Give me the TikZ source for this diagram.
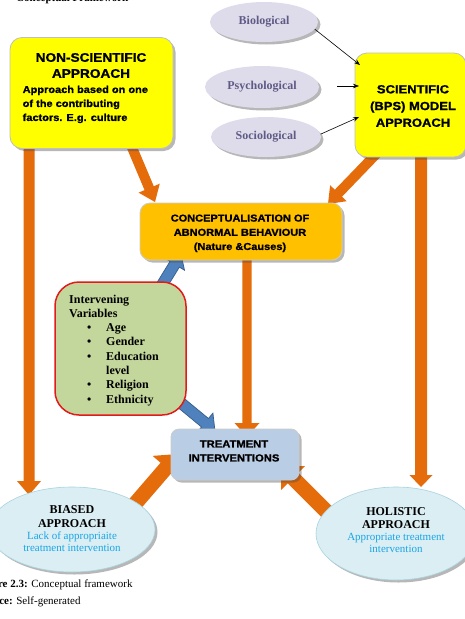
\documentclass[tikz,border=0pt]{standalone}
\usepackage{fontspec}
\setmainfont{Liberation Serif}
\newfontfamily\blk[FakeStretch=1.1,BoldFeatures={FakeBold=1.2}]{Liberation Sans}
\usetikzlibrary{shapes.geometric,shadows,calc,arrows.meta}
\definecolor{orng}{HTML}{E46C0A}
\definecolor{yfill}{HTML}{FFFF00}
\definecolor{ofill}{HTML}{FFC000}
\definecolor{tfill}{HTML}{B9CDE5}
\definecolor{gfill}{HTML}{C3D69B}
\definecolor{rbord}{HTML}{E31A1A}
\definecolor{lav}{HTML}{DEDCEB}
\definecolor{lavtxt}{HTML}{5F5A85}
\definecolor{cyanfill}{HTML}{DAEEF3}
\definecolor{cyanbord}{HTML}{A9D3DF}
\definecolor{bluetxt}{HTML}{1AA5E6}
\definecolor{barrow}{HTML}{4F81BD}
\definecolor{barrowd}{HTML}{385D8A}
\newcommand{\fatarr}[6]{%
  \coordinate (faC) at ($(#3)!#6!(#2)$);
  \filldraw[#1] ($(#2)!#4!90:(#3)$) -- ($(faC)!#4!90:(#3)$) -- ($(faC)!#5!90:(#3)$) -- (#3)
    -- ($(faC)!#5!-90:(#3)$) -- ($(faC)!#4!-90:(#3)$) -- ($(#2)!#4!-90:(#3)$) -- cycle;}
\tikzset{
  shad/.style={drop shadow={shadow xshift=2.5pt,shadow yshift=-2.5pt,fill=black!70,opacity=.4}},
  orngA/.style={fill=orng,draw=none},
  blueA/.style={fill=barrow,draw=barrowd,line width=0.7pt,line join=miter},
  ybx/.style={rectangle,rounded corners=12pt,fill=yfill,draw=black!25,line width=0.8pt,shad,inner sep=0},
  obx/.style={rectangle,rounded corners=10pt,fill=ofill,draw=black!20,line width=0.8pt,shad,inner sep=0},
  tbx/.style={rectangle,rounded corners=8pt,fill=tfill,draw=black!20,line width=0.8pt,shad,inner sep=0},
  gbx/.style={rectangle,rounded corners=24pt,fill=gfill,draw=rbord,line width=1.5pt,inner sep=0},
  lavell/.style={ellipse,fill=lav,draw=none,shad,inner sep=0,text=lavtxt,font=\bfseries\fontsize{12}{14}\selectfont},
  cyell/.style={ellipse,fill=cyanfill,draw=cyanbord,line width=0.6pt,shad,inner sep=0},
  bigsans/.style={align=center,inner sep=0,font=\blk\bfseries\fontsize{12.4}{16}\selectfont},
  midsans/.style={align=center,inner sep=0,font=\blk\bfseries\fontsize{10}{14.2}\selectfont},
  sertitle/.style={align=center,inner sep=0,font=\bfseries\fontsize{12}{13.4}\selectfont},
  sersub/.style={align=center,inner sep=0,text=bluetxt,font=\fontsize{11}{12.7}\selectfont},
  thinarr/.style={draw=black,line width=0.6pt,-{Stealth[length=6pt,width=4.5pt]}}
}
\begin{document}
\begin{tikzpicture}[x=1pt,y=-1pt]
\useasboundingbox (0,0) rectangle (465,619);
% orange arrows (behind boxes)
\coordinate (o1a) at (29,140); \coordinate (o1b) at (29,495);
\coordinate (o2a) at (128,138); \coordinate (o2b) at (155,202);
\coordinate (o3a) at (382,148); \coordinate (o3b) at (328,204);
\coordinate (o4a) at (421,150); \coordinate (o4b) at (421,487);
\coordinate (o5a) at (247,250); \coordinate (o5b) at (247,437);
\coordinate (o6a) at (128,512); \coordinate (o6b) at (178,454);
\coordinate (o7a) at (337,522); \coordinate (o7b) at (281,466);
\fatarr{orngA}{o1a}{o1b}{5.5pt}{12pt}{14pt}
\fatarr{orngA}{o2a}{o2b}{5pt}{11.5pt}{15pt}
\fatarr{orngA}{o3a}{o3b}{5pt}{11.5pt}{15pt}
\fatarr{orngA}{o4a}{o4b}{6pt}{11.5pt}{12pt}
\fatarr{orngA}{o5a}{o5b}{4.7pt}{12.5pt}{14pt}
\fatarr{orngA}{o6a}{o6b}{7.5pt}{18pt}{18pt}
\fatarr{orngA}{o7a}{o7b}{7.5pt}{17pt}{17pt}
% blue arrows
\coordinate (b1a) at (157,293); \coordinate (b1b) at (181,254);
\coordinate (b2a) at (175,398); \coordinate (b2b) at (215,431);
\fatarr{blueA}{b1a}{b1b}{5.5pt}{11.5pt}{12pt}
\fatarr{blueA}{b2a}{b2b}{5.5pt}{12.5pt}{13pt}
% boxes
\node[ybx,minimum width=163pt,minimum height=111pt] (ns) at (91.5,93) {};
\node[bigsans] (nsT) at (91,65.5) {NON-SCIENTIFIC\\APPROACH};
\node[anchor=north west,inner sep=0,align=left,font=\blk\bfseries\fontsize{10}{14}\selectfont] (nsS) at (22.5,85.5) {Approach based on one\\of the contributing\\factors. E.g. culture};
\node[ybx,minimum width=111pt,minimum height=104pt] (sci) at (410.5,105) {};
\node[align=center,inner sep=0,font=\blk\bfseries\fontsize{11.8}{16.7}\selectfont] (sciT) at (413,106) {SCIENTIFIC\\(BPS) MODEL\\APPROACH};
\node[lavell,minimum width=108pt,minimum height=40pt] (bio) at (264,22) {Biological};
\node[lavell,minimum width=114pt,minimum height=42pt] (psy) at (262,87) {Psychological};
\node[lavell,minimum width=110pt,minimum height=40pt] (soc) at (266,137) {Sociological};
\node[obx,minimum width=202pt,minimum height=57pt] (cb) at (241,231.5) {};
\node[midsans] (cbT) at (240,233.3) {CONCEPTUALISATION OF\\ABNORMAL BEHAVIOUR\\(Nature \&Causes)};
\node[tbx,minimum width=128pt,minimum height=51pt] (tb) at (235,454.5) {};
\node[midsans,font=\blk\bfseries\fontsize{10.2}{14}\selectfont] (tbT) at (234,451) {TREATMENT\\INTERVENTIONS};
\node[gbx,minimum width=131pt,minimum height=133pt] (gv) at (120.5,348.5) {};
\node[anchor=north west,inner sep=0,align=left,font=\bfseries\fontsize{12}{14.3}\selectfont] (gvT) at (69,294.5)
 {Intervening\\Variables\\\makebox[37pt][l]{\hspace{18pt}\textbullet}Age\\\makebox[37pt][l]{\hspace{18pt}\textbullet}Gender\\\makebox[37pt][l]{\hspace{18pt}\textbullet}Education\\\makebox[37pt][l]{}level\\\makebox[37pt][l]{\hspace{18pt}\textbullet}Religion\\\makebox[37pt][l]{\hspace{18pt}\textbullet}Ethnicity};
\node[cyell,minimum width=166pt,minimum height=85pt] (bi) at (72,529.5) {};
\node[sertitle] (biT) at (72,516.7) {BIASED\\APPROACH};
\node[sersub] (biS) at (72,541.6) {Lack of appropriaite\\treatment intervention};
\node[cyell,minimum width=160pt,minimum height=93pt] (ho) at (396,533.5) {};
\node[sertitle] (hoT) at (396,517.8) {HOLISTIC\\APPROACH};
\node[sersub] (hoS) at (396,543) {Appropriate treatment\\intervention};
% thin black arrows
\coordinate (psyS) at (337,86);
\coordinate (sciA) at (360,65); \coordinate (sciB) at (359,86); \coordinate (sciC) at (359,117);
\draw[thinarr] (bio.-8) -- (sciA);
\draw[thinarr] (psyS) -- (sciB);
\draw[thinarr] (soc.3) -- (sciC);
% captions
\node[anchor=base west,inner sep=0,font=\bfseries\fontsize{11}{13}\selectfont] (ttl) at (16,1.5) {Conceptual Framework};
\node[anchor=base east,inner sep=0,font=\fontsize{11}{13}\selectfont] (cap) at (132.7,587) {\textbf{Figure 2.3:} Conceptual framework};
\node[anchor=base east,inner sep=0,font=\fontsize{11}{13}\selectfont] (src) at (80.7,604) {\textbf{Source:} Self-generated};
\end{tikzpicture}
\end{document}
